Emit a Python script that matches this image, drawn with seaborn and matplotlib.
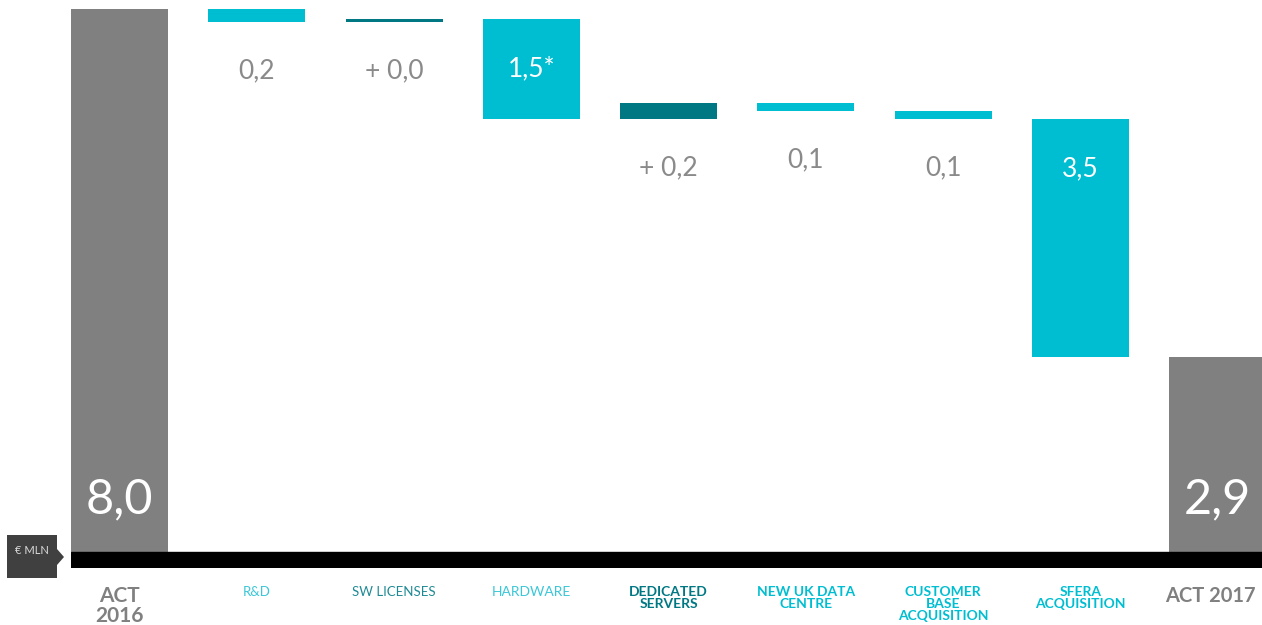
import numpy as np
import pandas as pd
import matplotlib
matplotlib.use("Agg")
import matplotlib.pyplot as plt
from matplotlib.patches import Polygon
from matplotlib.transforms import ScaledTranslation
import seaborn as sns

# ---- data (EUR million) ----
categories = ["ACT\n2016", "R&D", "SW LICENSES", "HARDWARE", "DEDICATED\nSERVERS",
              "NEW UK DATA\nCENTRE", "CUSTOMER\nBASE\nACQUISITION",
              "SFERA\nACQUISITION", "ACT 2017"]
opening_total = 8.0
changes = [-0.19, 0.04, -1.47, 0.24, -0.12, -0.12, -3.50]
value_notes = ["", "", "", "*", "", "", "", "", ""]

# ---- styling ----
GREY = "#808080"
CYAN = "#00BED1"
TEAL = "#007883"
kind_colors = {"total": GREY, "decrease": CYAN, "increase": TEAL}
label_colors = [GREY, "#3AC7D7", "#1F8A94", "#3AC7D7", "#007883",
                "#00BED1", "#00BED1", "#00BED1", GREY]
label_weights = ["bold", "normal", "normal", "normal", "bold",
                 "bold", "bold", "bold", "bold"]
label_sizes = [15, 9.5, 9.5, 10, 10, 10, 10, 10, 14.5]

# ---- waterfall geometry ----
levels = opening_total + np.cumsum(changes)
closing_total = levels[-1]
previous = np.concatenate([[opening_total], levels[:-1]])
lower = np.concatenate([[0.0], np.minimum(previous, levels), [0.0]])
span = np.concatenate([[opening_total], np.abs(changes), [closing_total]])
signed = np.concatenate([[opening_total], changes, [closing_total]])
kinds = (["total"]
         + ["increase" if c > 0 else "decrease" for c in changes]
         + ["total"])

df = pd.DataFrame({"category": categories, "span": span, "lower": lower,
                   "signed": signed, "kind": kinds})

sns.set_style("white")
plt.rcParams["font.family"] = ["Lato", "DejaVu Sans"]

fig = plt.figure(figsize=(12.62, 6.25), dpi=100)
ax = fig.add_axes([71 / 1262, 57 / 625, 1191 / 1262, 568 / 625])

bar_width = 0.707
sns.barplot(data=df, x="category", y="span", order=categories, bottom=df["lower"].values,
            color=GREY, width=bar_width, errorbar=None, linewidth=0, ax=ax)
for patch, kind in zip(ax.patches, df["kind"]):
    patch.set_facecolor(kind_colors[kind])
    patch.set_edgecolor("none")

y_bottom = -0.2357
y_top = 8.1326
ax.set_ylim(y_bottom, y_top)
ax.set_xlim(-bar_width / 2, 8.324)

# thick black base band under the bars
ax.axhspan(y_bottom, 0, color="black", zorder=3)


def fmt(v):
    return f"{abs(v):.1f}".replace(".", ",")


for i, row in df.iterrows():
    text = fmt(row["signed"]) + value_notes[i]
    if row["kind"] == "total":
        ax.annotate(text, (i, 0), xytext=(0, 38), textcoords="offset points",
                    ha="center", va="center", color="white", fontsize=35,
                    fontweight="normal", zorder=4)
    else:
        if row["kind"] == "increase":
            text = "+ " + text
        if row["span"] >= 1.0:
            ax.annotate(text, (i, row["lower"] + row["span"]), xytext=(0, -36),
                        textcoords="offset points", ha="center", va="center",
                        color="white", fontsize=19, fontweight="normal", zorder=4)
        else:
            ax.annotate(text, (i, row["lower"]), xytext=(0, -35),
                        textcoords="offset points", ha="center", va="center",
                        color="#8a8a8a", fontsize=19, fontweight="normal", zorder=4)

ax.set_xlabel("")
ax.set_ylabel("")
ax.set_yticks([])
ax.tick_params(axis="x", length=0, pad=13)
ticklabels = ax.get_xticklabels()
for lbl, c, w, s in zip(ticklabels, label_colors, label_weights, label_sizes):
    lbl.set_color(c)
    lbl.set_fontweight(w)
    lbl.set_fontsize(s)
    lbl.set_linespacing(1.0)
# keep the last label inside the right edge
ticklabels[-1].set_transform(ticklabels[-1].get_transform()
                             + ScaledTranslation(-5 / 72, 0, fig.dpi_scale_trans))
for sp in ax.spines.values():
    sp.set_visible(False)

# unit tag at the left of the base band
W, H = 1262, 625
tag = [(7, 535), (57, 535), (57, 549), (64, 557), (57, 565), (57, 578), (7, 578)]
fig.patches.append(Polygon([(x / W, 1 - y / H) for x, y in tag], closed=True,
                           transform=fig.transFigure, facecolor="#404040",
                           edgecolor="none"))
fig.text(32 / W, 1 - 551 / H, "€ MLN", ha="center", va="center",
         color="#d9d9d9", fontsize=8)

fig.savefig("out.png", dpi=100)
